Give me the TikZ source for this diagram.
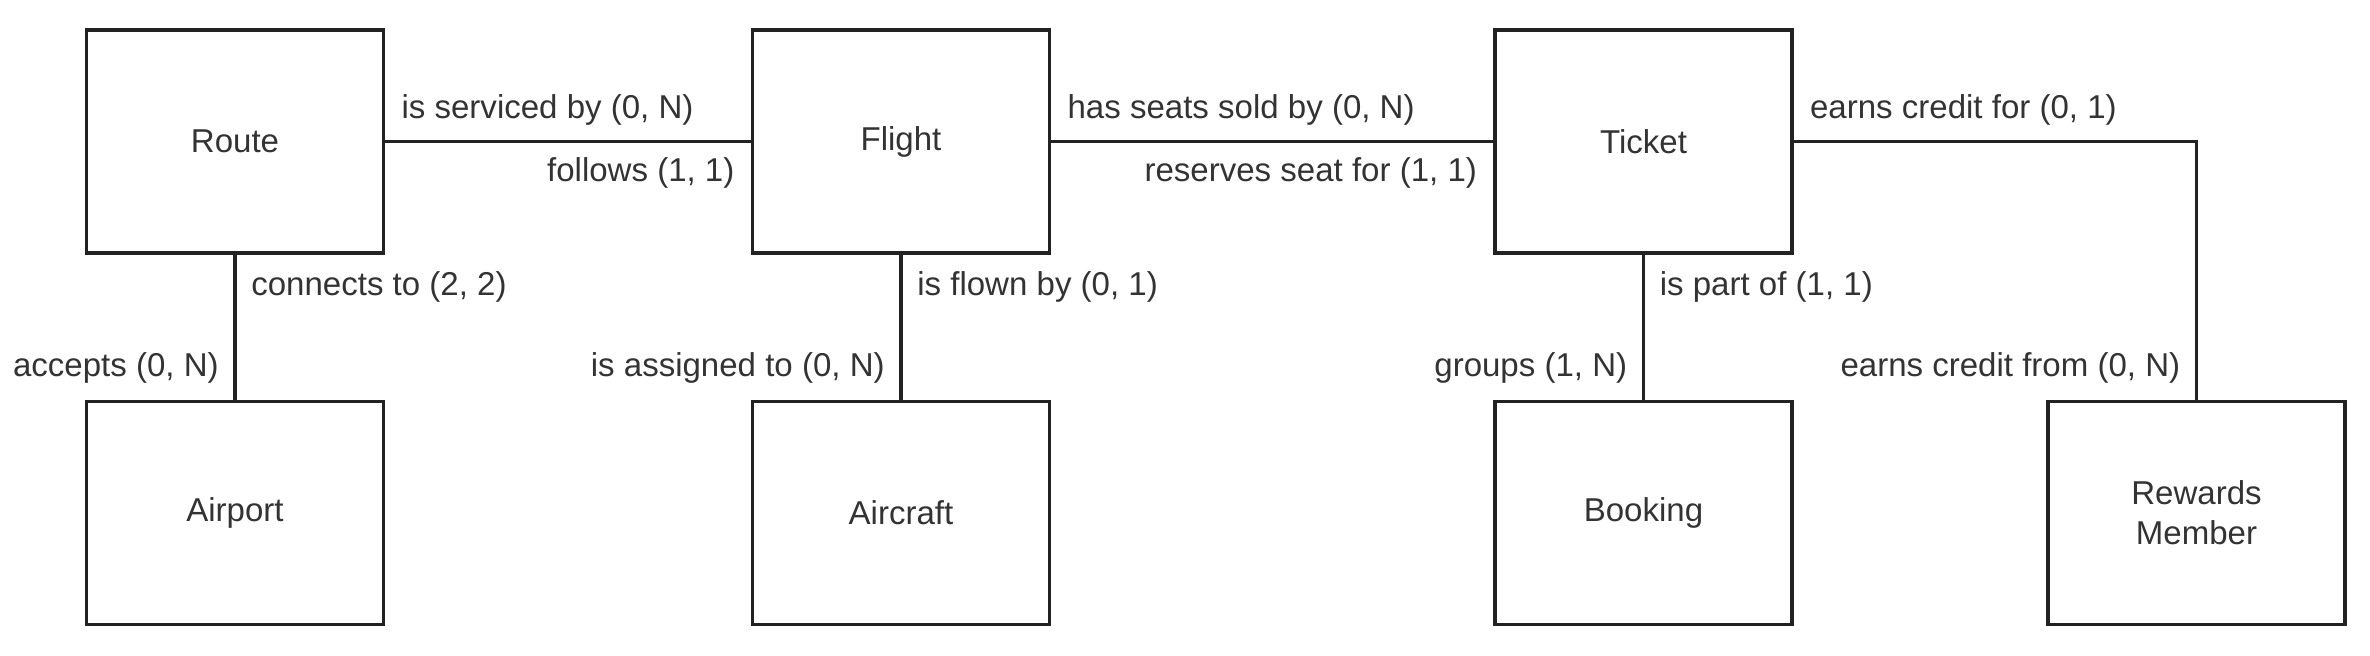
\documentclass[tikz,border=0pt]{standalone}
\usepackage{fontspec}
\setmainfont{Liberation Sans}
\definecolor{inkline}{HTML}{222222}
\definecolor{inktext}{HTML}{333333}

\begin{document}
\begin{tikzpicture}[
    entity/.style={draw=inkline,line width=1pt,minimum width=2.97cm,minimum height=2.23cm,
      align=center,text=inktext,font=\fontsize{9.4}{11.4}\selectfont},
    role/.style={inner sep=4.2pt,text=inktext,font=\fontsize{9.4}{11.4}\selectfont},
    link/.style={draw=inkline,line width=0.9pt}]
        \useasboundingbox (0,0) rectangle (23.7,6.56);
        % top row
        \node[entity] (route) at (2.35,5.145) {Route};
        \node[entity] (flight) at (9.01,5.145) {Flight};
        \node[entity] (ticket) at (16.435,5.145) {Ticket};
        % bottom row
        \node[entity] (airport) at (2.35,1.43) {Airport};
        \node[entity] (aircraft) at (9.01,1.43) {Aircraft};
        \node[entity] (booking) at (16.435,1.43) {Booking};
        \node[entity] (member) at (21.965,1.43) {Rewards\\Member};
        % relationships
        \draw[link] (route) -- (flight)
          node[role,pos=0,anchor=south west] {is serviced by (0, N)}
          node[role,pos=1,anchor=north east] {follows (1, 1)};
        \draw[link] (flight) -- (ticket)
          node[role,pos=0,anchor=south west] {has seats sold by (0, N)}
          node[role,pos=1,anchor=north east] {reserves seat for (1, 1)};
        \draw[link] (ticket) -| (member)
          node[role,pos=0,anchor=south west] {earns credit for (0, 1)}
          node[role,pos=1,anchor=south east] {earns credit from (0, N)};
        \draw[link] (route) -- (airport)
          node[role,pos=0,anchor=north west] {connects to (2, 2)}
          node[role,pos=1,anchor=south east] {accepts (0, N)};
        \draw[link] (flight) -- (aircraft)
          node[role,pos=0,anchor=north west] {is flown by (0, 1)}
          node[role,pos=1,anchor=south east] {is assigned to (0, N)};
        \draw[link] (ticket) -- (booking)
          node[role,pos=0,anchor=north west] {is part of (1, 1)}
          node[role,pos=1,anchor=south east] {groups (1, N)};
      \end{tikzpicture}
\end{document}
